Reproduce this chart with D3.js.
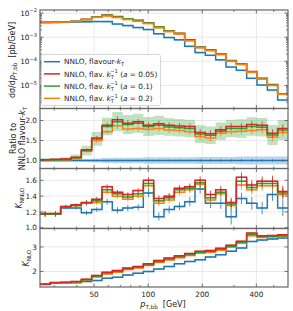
<!DOCTYPE html>
<html>
<head>
<meta charset="utf-8">
<script src="https://cdn.jsdelivr.net/npm/d3@7"></script>
<style>
body { margin: 0; background: #fff; }
svg { font-family: "DejaVu Sans", sans-serif; }
</style>
</head>
<body>
<div id="chart"></div>
<script>
// p_T,bb bin edges [GeV]
const binEdges = [25, 28.54, 32.58, 37.19, 42.46, 48.47, 55.33, 63.17, 72.11, 82.32, 93.97, 107.3,
    122.5, 139.8, 159.6, 182.2, 208.0, 237.4, 271.0, 309.4, 353.2, 403.2, 460.3, 525.5, 600];

// dsigma/dpT [pb/GeV]
const xsecKt = [4.1e-3, 4.15e-3, 4.2e-3, 4.3e-3, 4.4e-3, 4.5e-3, 4.45e-3, 3.55e-3, 3.05e-3, 2.55e-3, 2.1e-3, 1.4e-3,
    9.8e-4, 7.8e-4, 4.2e-4, 2.3e-4, 1.8e-4, 1.15e-4, 5.8e-5, 4.3e-5, 2.0e-5, 1.05e-5, 6.4e-6, 2.5e-6];
const xsecA005 = [4.18e-3, 4.27e-3, 4.37e-3, 4.64e-3, 5.59e-3, 7.02e-3, 8.37e-3, 7.17e-3, 5.89e-3, 5.02e-3, 3.95e-3, 2.69e-3,
    1.84e-3, 1.45e-3, 7.77e-4, 3.91e-4, 3.0e-4, 2.04e-4, 1.07e-4, 7.96e-5, 3.8e-5, 1.97e-5, 1.08e-5, 4.5e-6];
const xsecA01 = [4.18e-3, 4.23e-3, 4.33e-3, 4.6e-3, 5.5e-3, 6.93e-3, 8.23e-3, 6.99e-3, 5.8e-3, 4.92e-3, 3.89e-3, 2.63e-3,
    1.8e-3, 1.42e-3, 7.56e-4, 3.82e-4, 2.93e-4, 1.99e-4, 1.04e-4, 7.74e-5, 3.7e-5, 1.92e-5, 1.05e-5, 4.4e-6];
const xsecA02 = [4.15e-3, 4.2e-3, 4.3e-3, 4.5e-3, 5.4e-3, 6.75e-3, 7.65e-3, 6.65e-3, 5.45e-3, 4.6e-3, 3.75e-3, 2.5e-3,
    1.72e-3, 1.37e-3, 7.2e-4, 3.7e-4, 2.8e-4, 1.93e-4, 1.0e-4, 7.4e-5, 3.5e-5, 1.85e-5, 1.0e-5, 4.25e-6];

// ratio to NNLO flavour-kT
const ratioKt = [1, 1, 1, 1, 1, 1, 1, 1, 1, 1, 1, 1, 1, 1, 1, 1, 1, 1, 1, 1, 1, 1, 1, 1];
const ratioA005 = [1.02, 1.03, 1.04, 1.08, 1.27, 1.56, 1.88, 2.02, 1.93, 1.97, 1.88, 1.92,
    1.88, 1.86, 1.85, 1.70, 1.67, 1.77, 1.85, 1.85, 1.90, 1.88, 1.68, 1.80];
const ratioA01 = [1.02, 1.02, 1.03, 1.07, 1.25, 1.54, 1.85, 1.97, 1.90, 1.93, 1.85, 1.88,
    1.84, 1.82, 1.80, 1.66, 1.63, 1.73, 1.80, 1.80, 1.85, 1.83, 1.64, 1.76];
const ratioA02 = [1.01, 1.02, 1.02, 1.05, 1.23, 1.50, 1.72, 1.87, 1.79, 1.80, 1.78, 1.80,
    1.76, 1.75, 1.72, 1.60, 1.56, 1.68, 1.72, 1.73, 1.75, 1.77, 1.58, 1.70];
const ratioBandKt = [0.03, 0.03, 0.03, 0.03, 0.04, 0.05, 0.06, 0.07, 0.07, 0.07, 0.08, 0.08,
    0.08, 0.08, 0.08, 0.09, 0.09, 0.09, 0.09, 0.1, 0.1, 0.1, 0.1, 0.1];
const ratioBandA01 = [0.04, 0.04, 0.05, 0.08, 0.12, 0.17, 0.22, 0.24, 0.24, 0.24, 0.24, 0.24,
    0.22, 0.22, 0.22, 0.22, 0.22, 0.22, 0.22, 0.23, 0.23, 0.23, 0.25, 0.25];
const ratioErr = [0.01, 0.01, 0.02, 0.02, 0.03, 0.05, 0.06, 0.08, 0.07, 0.07, 0.07, 0.07,
    0.07, 0.07, 0.07, 0.08, 0.08, 0.08, 0.08, 0.08, 0.09, 0.09, 0.1, 0.1];
const ratioErrKt = [0.01, 0.01, 0.01, 0.01, 0.01, 0.02, 0.02, 0.02, 0.02, 0.02, 0.02, 0.02,
    0.02, 0.02, 0.02, 0.03, 0.03, 0.03, 0.03, 0.03, 0.03, 0.03, 0.03, 0.03];

// K factor NNLO/NLO
const knnloKt = [1.17, 1.17, 1.25, 1.25, 1.19, 1.23, 1.33, 1.22, 1.25, 1.26, 1.44, 1.14,
    1.23, 1.27, 1.33, 1.49, 1.31, 1.31, 1.14, 1.37, 1.31, 1.25, 1.42, 1.25];
const knnloA005 = [1.18, 1.18, 1.27, 1.29, 1.32, 1.36, 1.52, 1.45, 1.42, 1.47, 1.60, 1.37,
    1.40, 1.50, 1.52, 1.60, 1.42, 1.48, 1.32, 1.64, 1.54, 1.59, 1.59, 1.46];
const knnloA01 = [1.17, 1.17, 1.26, 1.28, 1.315, 1.34, 1.48, 1.43, 1.39, 1.43, 1.56, 1.34,
    1.38, 1.48, 1.50, 1.57, 1.38, 1.45, 1.30, 1.59, 1.51, 1.56, 1.56, 1.44];
const knnloA02 = [1.17, 1.17, 1.26, 1.28, 1.31, 1.32, 1.45, 1.40, 1.36, 1.40, 1.53, 1.31,
    1.35, 1.45, 1.48, 1.55, 1.35, 1.43, 1.28, 1.54, 1.48, 1.53, 1.53, 1.42];
const knnloErrKt = [0.03, 0.03, 0.02, 0.02, 0.03, 0.03, 0.04, 0.04, 0.04, 0.04, 0.05, 0.05,
    0.05, 0.05, 0.06, 0.06, 0.06, 0.07, 0.1, 0.07, 0.08, 0.08, 0.08, 0.1];
const knnloErr = [0.03, 0.03, 0.02, 0.02, 0.03, 0.03, 0.03, 0.03, 0.03, 0.03, 0.04, 0.04,
    0.04, 0.04, 0.04, 0.05, 0.05, 0.05, 0.06, 0.06, 0.06, 0.06, 0.07, 0.07];

// K factor NLO/LO
const knloKt = [1.48, 1.54, 1.54, 1.54, 1.59, 1.63, 1.73, 1.77, 1.86, 1.93, 2.0, 2.1,
    2.2, 2.32, 2.41, 2.48, 2.59, 2.68, 2.82, 2.96, 3.22, 3.28, 3.32, 3.36];
const knloA005 = [1.48, 1.55, 1.56, 1.59, 1.69, 1.84, 1.97, 2.04, 2.14, 2.2, 2.32, 2.45,
    2.55, 2.64, 2.73, 2.82, 2.86, 2.95, 3.07, 3.23, 3.57, 3.46, 3.47, 3.5];
const knloA01 = [1.48, 1.54, 1.55, 1.58, 1.67, 1.81, 1.94, 2.01, 2.11, 2.17, 2.28, 2.41,
    2.51, 2.6, 2.69, 2.78, 2.82, 2.91, 3.03, 3.19, 3.51, 3.42, 3.43, 3.46];
const knloA02 = [1.47, 1.53, 1.54, 1.56, 1.64, 1.78, 1.9, 1.97, 2.08, 2.14, 2.24, 2.37,
    2.47, 2.56, 2.65, 2.74, 2.78, 2.87, 2.99, 3.15, 3.45, 3.38, 3.4, 3.42];

const xTicks = [50, 100, 200, 400];
const xMinorTicks = [30, 40, 60, 70, 80, 90, 300, 500];
const topTicks = [1e-5, 1e-4, 1e-3, 1e-2];
const topTickLabels = ["\u22125", "\u22124", "\u22123", "\u22122"];
const ratioTicks = [1.0, 1.5, 2.0];
const knnloTicks = [1.0, 1.2, 1.4, 1.6];
const knloTicks = [2, 3];

const colors = { kt: "#1f77b4", a005: "#d62728", a01: "#2ca02c", a02: "#ff7f0e" };

const width = 293, height = 311;
const left = 40, right = 288;

const svg = d3.select("#chart").append("svg").attr("width", width).attr("height", height);

const x = d3.scaleLog().domain([25, 600]).range([left, right]);

const panels = [
    { top: 10, bottom: 108.5, y: d3.scaleLog().domain([1.1e-6, 1.35e-2]) },
    { top: 108.5, bottom: 168.5, y: d3.scaleLinear().domain([0.8, 2.3]) },
    { top: 168.5, bottom: 228.5, y: d3.scaleLinear().domain([0.99, 1.75]) },
    { top: 228.5, bottom: 287, y: d3.scaleLinear().domain([1.37, 3.75]) }
];
panels.forEach(function (p, i) {
    p.y.range([p.bottom, p.top]);
    p.g = svg.append("g");
    svg.append("clipPath").attr("id", "clip" + i).append("rect")
        .attr("x", left).attr("y", p.top).attr("width", right - left).attr("height", p.bottom - p.top);
    p.plot = p.g.append("g").attr("clip-path", "url(#clip" + i + ")");
});

function stepPoints(vals) {
    return binEdges.map(function (e, i) { return [e, vals[Math.min(i, vals.length - 1)]]; });
}
function centre(i) { return Math.sqrt(binEdges[i] * binEdges[i + 1]); }

function grid(p, yTicks) {
    const g = p.plot.append("g");
    g.selectAll(".gx").data(xTicks).enter().append("line")
        .attr("x1", d => x(d)).attr("x2", d => x(d)).attr("y1", p.top).attr("y2", p.bottom)
        .attr("stroke", "#e3e3e3").attr("stroke-width", 0.8);
    g.selectAll(".gy").data(yTicks).enter().append("line")
        .attr("x1", left).attr("x2", right).attr("y1", d => p.y(d)).attr("y2", d => p.y(d))
        .attr("stroke", "#e3e3e3").attr("stroke-width", 0.8);
}

function band(p, lo, hi, color, opacity) {
    const area = d3.area().curve(d3.curveStepAfter)
        .x(d => x(d[0])).y0(d => p.y(d[1])).y1(d => p.y(d[2]));
    const pts = binEdges.map(function (e, i) {
        const k = Math.min(i, lo.length - 1);
        return [e, lo[k], hi[k]];
    });
    p.plot.append("path").attr("d", area(pts)).attr("fill", color).attr("opacity", opacity);
}

function stepLine(p, vals, color) {
    const line = d3.line().curve(d3.curveStepAfter).x(d => x(d[0])).y(d => p.y(d[1]));
    p.plot.append("path").attr("d", line(stepPoints(vals)))
        .attr("fill", "none").attr("stroke", color).attr("stroke-width", 1.5);
}

function errorBars(p, vals, errs, color) {
    p.plot.append("g").selectAll("line").data(vals).enter().append("line")
        .attr("x1", (d, i) => x(centre(i))).attr("x2", (d, i) => x(centre(i)))
        .attr("y1", (d, i) => p.y(d - errs[i])).attr("y2", (d, i) => p.y(d + errs[i]))
        .attr("stroke", color).attr("stroke-width", 1).attr("opacity", 0.8);
}

function frame(p, yTicks, yMinor) {
    const g = p.g.append("g");
    const tickCol = "#555";
    // x ticks, inward, bottom and top
    [[xTicks, 3.5], [xMinorTicks, 2]].forEach(function (t) {
        g.append("g").selectAll("line").data(t[0]).enter().append("line")
            .attr("x1", d => x(d)).attr("x2", d => x(d)).attr("y1", p.bottom).attr("y2", p.bottom - t[1])
            .attr("stroke", tickCol).attr("stroke-width", 0.8);
        g.append("g").selectAll("line").data(t[0]).enter().append("line")
            .attr("x1", d => x(d)).attr("x2", d => x(d)).attr("y1", p.top).attr("y2", p.top + t[1])
            .attr("stroke", tickCol).attr("stroke-width", 0.8);
    });
    [[yTicks, 3.5], [yMinor, 2]].forEach(function (t) {
        g.append("g").selectAll("line").data(t[0]).enter().append("line")
            .attr("x1", left).attr("x2", left + t[1]).attr("y1", d => p.y(d)).attr("y2", d => p.y(d))
            .attr("stroke", tickCol).attr("stroke-width", 0.8);
        g.append("g").selectAll("line").data(t[0]).enter().append("line")
            .attr("x1", right).attr("x2", right - t[1]).attr("y1", d => p.y(d)).attr("y2", d => p.y(d))
            .attr("stroke", tickCol).attr("stroke-width", 0.8);
    });
    g.append("rect").attr("x", left).attr("y", p.top).attr("width", right - left).attr("height", p.bottom - p.top)
        .attr("fill", "none").attr("stroke", "#666").attr("stroke-width", 1.2);
}

// rich text: parts are [text, style]; style: n, i, sub, subi, sup
function richText(sel, parts, size) {
    let base = 0;
    parts.forEach(function (pt) {
        const style = pt[1] || "n";
        let b = 0, fs = size;
        if (style === "sub" || style === "subi") { b = 0.3 * size; fs = size * 0.7; }
        if (style === "sup") { b = -0.45 * size; fs = size * 0.7; }
        const ts = sel.append("tspan").text(pt[0]).attr("font-size", fs).attr("dy", b - base);
        if (style === "i" || style === "subi") ts.attr("font-style", "italic");
        if (pt[2]) ts.attr("dx", pt[2]);
        base = b;
    });
}

// y tick labels
function yLabels(p, ticks, fmt) {
    p.g.append("g").selectAll("text").data(ticks).enter().append("text")
        .attr("x", left - 3).attr("y", d => p.y(d) + 2.6)
        .attr("text-anchor", "end").attr("font-size", 7.3).attr("fill", "#222")
        .text(fmt);
}

// ---- top panel: cross sections
const p0 = panels[0];
const topMinor = [];
[1e-6, 1e-5, 1e-4, 1e-3, 1e-2].forEach(function (dec) {
    for (let m = 2; m <= 9; m++) topMinor.push(dec * m);
});
grid(p0, topTicks);
[[xsecKt, colors.kt], [xsecA005, colors.a005], [xsecA01, colors.a01], [xsecA02, colors.a02]].forEach(function (s) {
    band(p0, s[0].map(v => v * 0.9), s[0].map(v => v * 1.0), s[1], 0.3);
});
[[xsecKt, colors.kt], [xsecA005, colors.a005], [xsecA01, colors.a01], [xsecA02, colors.a02]].forEach(function (s) {
    stepLine(p0, s[0], s[1]);
});
frame(p0, topTicks, topMinor.filter(v => v > 1.1e-6 && v < 1.35e-2));
topTicks.forEach(function (t, i) {
    const tx = p0.g.append("text").attr("x", left - 3).attr("y", p0.y(t) + 2.6)
        .attr("text-anchor", "end").attr("fill", "#222");
    richText(tx, [["10"], [topTickLabels[i], "sup"]], 7.3);
});

// ---- ratio panel
const p1 = panels[1];
grid(p1, ratioTicks);
band(p1, ratioKt.map((v, i) => v - ratioBandKt[i]), ratioKt.map((v, i) => v + ratioBandKt[i]), colors.kt, 0.3);
band(p1, ratioA01.map((v, i) => v - ratioBandA01[i]), ratioA01.map((v, i) => v + ratioBandA01[i]), colors.a01, 0.3);
stepLine(p1, ratioKt, colors.kt);
errorBars(p1, ratioKt, ratioErrKt, colors.kt);
stepLine(p1, ratioA02, colors.a02);
errorBars(p1, ratioA02, ratioErr, colors.a02);
stepLine(p1, ratioA01, colors.a01);
stepLine(p1, ratioA005, colors.a005);
errorBars(p1, ratioA005, ratioErr, colors.a005);
frame(p1, ratioTicks, []);
yLabels(p1, ratioTicks, d3.format(".1f"));

// ---- K_NNLO panel
const p2 = panels[2];
grid(p2, knnloTicks);
[[knnloKt, knnloErrKt, colors.kt], [knnloA02, knnloErr, colors.a02], [knnloA01, knnloErr, colors.a01],
    [knnloA005, knnloErr, colors.a005]].forEach(function (s) {
    band(p2, s[0].map(v => v - 0.01), s[0].map(v => v + 0.01), s[2], 0.3);
    stepLine(p2, s[0], s[2]);
    errorBars(p2, s[0], s[1], s[2]);
});
frame(p2, knnloTicks, []);
yLabels(p2, knnloTicks, d3.format(".1f"));

// ---- K_NLO panel
const p3 = panels[3];
grid(p3, knloTicks);
[[knloKt, colors.kt], [knloA02, colors.a02], [knloA01, colors.a01], [knloA005, colors.a005]].forEach(function (s) {
    band(p3, s[0].map(v => v - 0.03), s[0].map(v => v + 0.03), s[1], 0.3);
    stepLine(p3, s[0], s[1]);
    errorBars(p3, s[0], s[0].map(v => 0.02), s[1]);
});
frame(p3, knloTicks, []);
yLabels(p3, knloTicks, d3.format("d"));

// x tick labels
svg.append("g").selectAll("text").data(xTicks).enter().append("text")
    .attr("x", d => x(d)).attr("y", 297).attr("text-anchor", "middle")
    .attr("font-size", 7.3).attr("fill", "#222").text(d => d);

// axis titles
const xt = svg.append("text").attr("x", 163).attr("y", 307).attr("text-anchor", "middle").attr("fill", "#222");
richText(xt, [["p", "i"], ["T,bb\u0304", "sub"], ["\u00a0\u00a0[GeV]"]], 8);

const yt0 = svg.append("text").attr("transform", "translate(15,60) rotate(-90)")
    .attr("text-anchor", "middle").attr("fill", "#222");
richText(yt0, [["d\u03c3/d"], ["p", "i"], ["T,bb\u0304", "sub"], ["\u00a0\u00a0[pb/GeV]"]], 8);

svg.append("text").attr("transform", "translate(16,138.5) rotate(-90)")
    .attr("text-anchor", "middle").attr("fill", "#222").attr("font-size", 8).text("Ratio to");
const yt1b = svg.append("text").attr("transform", "translate(25,138.5) rotate(-90)")
    .attr("text-anchor", "middle").attr("fill", "#222");
richText(yt1b, [["NNLO flavour-"], ["k", "i"], ["T", "sub"]], 8);

const yt2 = svg.append("text").attr("transform", "translate(22,198) rotate(-90)")
    .attr("text-anchor", "middle").attr("fill", "#222");
richText(yt2, [["K", "i"], ["NNLO", "sub"]], 8);

const yt3 = svg.append("text").attr("transform", "translate(29,258) rotate(-90)")
    .attr("text-anchor", "middle").attr("fill", "#222");
richText(yt3, [["K", "i"], ["NLO", "sub"]], 8);

// legend
const legendLabels = [
    [["NNLO, flavour-"], ["k", "i"], ["T", "sub"]],
    [["NNLO, flav.\u00a0"], ["k", "i"], ["T", "sub"], ["\u22121", "sup", -3.6], ["\u00a0("], ["a", "i"], ["\u00a0=\u00a00.05)"]],
    [["NNLO, flav.\u00a0"], ["k", "i"], ["T", "sub"], ["\u22121", "sup", -3.6], ["\u00a0("], ["a", "i"], ["\u00a0=\u00a00.1)"]],
    [["NNLO, flav.\u00a0"], ["k", "i"], ["T", "sub"], ["\u22121", "sup", -3.6], ["\u00a0("], ["a", "i"], ["\u00a0=\u00a00.2)"]]
];
const legendColors = [colors.kt, colors.a005, colors.a01, colors.a02];
const lg = svg.append("g");
lg.append("rect").attr("x", 41.5).attr("y", 54.5).attr("width", 119).attr("height", 51).attr("rx", 2)
    .attr("fill", "#fff").attr("fill-opacity", 0.85).attr("stroke", "#ccc").attr("stroke-width", 0.8);
legendLabels.forEach(function (lab, i) {
    const ly = 61.7 + i * 12.2;
    lg.append("line").attr("x1", 44).attr("x2", 60).attr("y1", ly).attr("y2", ly)
        .attr("stroke", legendColors[i]).attr("stroke-width", 1.5);
    const t = lg.append("text").attr("x", 64).attr("y", ly + 2.6).attr("fill", "#222");
    richText(t, lab, 7.3);
});
</script>
</body>
</html>
